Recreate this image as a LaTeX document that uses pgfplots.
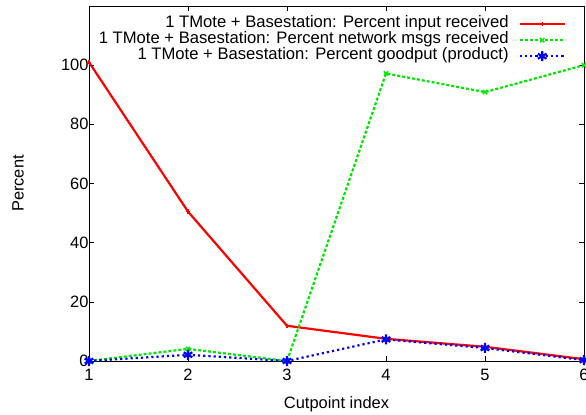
\documentclass[border=0pt]{standalone}
\usepackage{fontspec}
\setmainfont{Liberation Sans}
\usepackage{pgfplots}
\pgfplotsset{compat=1.18}
\begin{document}
\begin{tikzpicture}
\useasboundingbox (-89bp,-54bp) rectangle (497bp,361bp);
\begin{axis}[
  at={(0,0)}, anchor=south west,
  scale only axis, width=495bp, height=355bp,
  xmin=1, xmax=6, ymin=0, ymax=120,
  xtick={1,2,3,4,5,6}, ytick={0,20,40,60,80,100},
  tick pos=both, tick align=inside,
  major tick length=5bp,
  axis line style={line width=0.8bp},
  every tick/.style={black, line width=0.6bp},
  /pgf/number format/assume math mode=true,
  tick label style={font=\fontsize{16.5}{18}\selectfont},
  xticklabel style={yshift=-5bp},
  yticklabel style={xshift=3bp},
  label style={font=\fontsize{16.5}{18}\selectfont},
  xlabel={Cutpoint index},
  ylabel={Percent},
  xlabel style={at={(axis description cs:0.5,0)}, anchor=center, yshift=-43bp},
  ylabel style={at={(axis description cs:0,0.5)}, anchor=center, xshift=0bp, yshift=71bp},
  legend style={
    draw=none, fill=none,
    at={(1,1)}, anchor=north east, xshift=-15bp, yshift=-8bp,
    font=\fontsize{16.7}{16}\selectfont,
    legend cell align=right,
    nodes={inner sep=0pt, text height=11.5bp, text depth=4.5bp},
    /tikz/column sep=10bp,
    row sep=0pt,
  },
  legend plot pos=right,
  legend image code/.code={
    \draw[#1, mark=none] plot coordinates {(0bp,0bp) (45bp,0bp)};
    \path[#1] plot coordinates {(22.5bp,0bp)};},
  clip=false,
]
\addplot[color={rgb,255:red,255;green,0;blue,0}, line width=2.2bp, mark=+, mark size=2.2bp, mark options={solid, line width=1.2bp}]
  coordinates {(1,101) (2,50.5) (3,11.9) (4,7.5) (5,4.8) (6,0.6)};
\addlegendentry{1 TMote + Basestation: Percent input received}
\addplot[color={rgb,255:red,0;green,230;blue,0}, line width=2.2bp, dash pattern=on 3bp off 2bp, mark=x, mark size=3bp, mark options={solid, line width=1.5bp}]
  coordinates {(1,0) (2,4.1) (3,0) (4,97.2) (5,90.9) (6,100)};
\addlegendentry{1 TMote + Basestation: Percent network msgs received}
\addplot[color={rgb,255:red,0;green,0;blue,255}, line width=2.2bp, dash pattern=on 2.2bp off 3bp, mark=asterisk, mark size=5bp, mark options={solid, line width=2.2bp}]
  coordinates {(1,0) (2,2.1) (3,0) (4,7.3) (5,4.4) (6,0.3)};
\addlegendentry{1 TMote + Basestation: Percent goodput (product)}
\end{axis}
\end{tikzpicture}
\end{document}
